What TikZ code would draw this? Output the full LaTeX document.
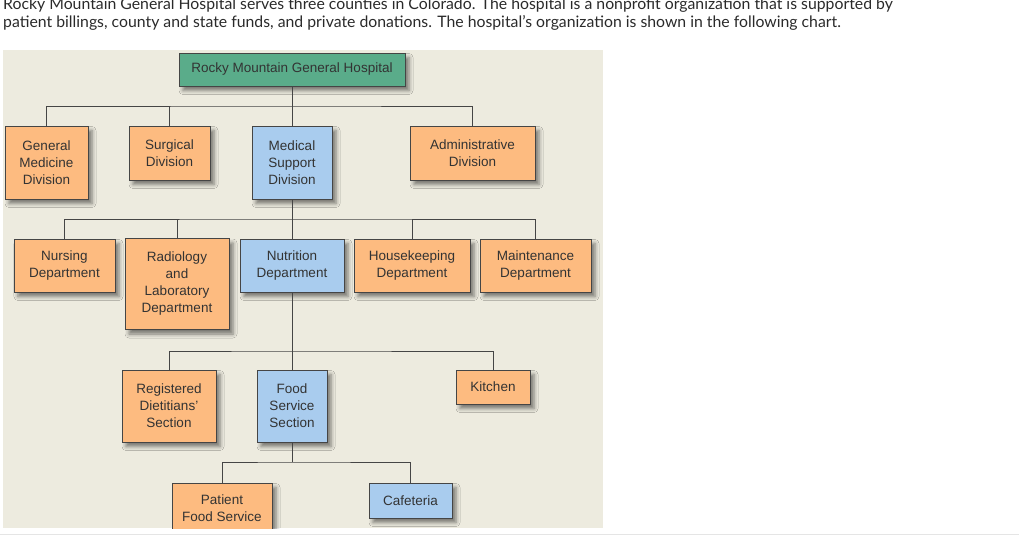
\documentclass[tikz,border=0pt]{standalone}
\usepackage{fontspec}
\setmainfont{Liberation Sans}
\newfontfamily\headfont{Lato}
\usetikzlibrary{shadows.blur}
\definecolor{panel}{HTML}{EDEBDF}
\definecolor{orangebox}{HTML}{FDBB80}
\definecolor{bluebox}{HTML}{A9CCEE}
\definecolor{greenbox}{HTML}{5AAC8A}
\definecolor{edge}{HTML}{454545}
\definecolor{ink}{HTML}{333333}
\definecolor{headink}{HTML}{2A2A2A}
\tikzset{
  unit/.style={draw=edge, line width=0.9pt, inner sep=0pt, align=center,
    text=ink, font=\fontsize{13.5}{17}\selectfont,
    blur shadow={shadow xshift=4pt, shadow yshift=-4.5pt, shadow blur radius=4pt, shadow opacity=50}},
  orange/.style={unit, fill=orangebox},
  blue/.style={unit, fill=bluebox},
  green/.style={unit, fill=greenbox},
  wire/.style={draw=edge, line width=0.9pt},
  headline/.style={anchor=base west, inner sep=0pt, text=headink, font=\headfont\fontsize{15.8}{19}\selectfont}
}
\begin{document}
\begin{tikzpicture}[x=1pt,y=-1pt]
\useasboundingbox (0,0) rectangle (1019,541);
\node[headline] (h1) at (3,9.5) {Rocky Mountain General Hospital serves three counties in Colorado. The hospital is a nonprofit organization that is supported by};
\node[headline] (h2) at (3,27.5) {patient billings, county and state funds, and private donations. The hospital’s organization is shown in the following chart.};
\draw[draw=black!10, line width=0.8pt] (0,534) -- (1019,534);
\begin{scope}
\clip (3,50) rectangle (603,528);
\fill[panel] (3,50) rectangle (603,528);
% level 0
\node[green, minimum width=226pt, minimum height=33pt] (top) at (292,69.5) {Rocky Mountain General Hospital};
% level 1
\node[orange, minimum width=83pt, minimum height=73pt] (gm) at (46.5,162.5) {General\\Medicine\\Division};
\node[orange, minimum width=81pt, minimum height=54pt] (surg) at (169.5,153) {Surgical\\Division};
\node[blue, minimum width=80pt, minimum height=73pt] (ms) at (292,162.5) {Medical\\Support\\Division};
\node[orange, minimum width=125pt, minimum height=54pt] (admin) at (472.5,153) {Administrative\\Division};
% level 2
\node[orange, minimum width=101pt, minimum height=53pt] (nurs) at (64.5,265.5) {Nursing\\Department};
\node[orange, minimum width=104pt, minimum height=91pt] (rad) at (177,284) {Radiology\\and\\Laboratory\\Department};
\node[blue, minimum width=104pt, minimum height=53pt] (nut) at (292,265.5) {Nutrition\\Department};
\node[orange, minimum width=116pt, minimum height=53pt] (house) at (412,265.5) {Housekeeping\\Department};
\node[orange, minimum width=111pt, minimum height=53pt] (maint) at (535.5,265.5) {Maintenance\\Department};
% level 3
\node[orange, minimum width=94pt, minimum height=72pt] (rd) at (169,406) {Registered\\Dietitians’\\Section};
\node[blue, minimum width=70pt, minimum height=72pt] (fs) at (292,406) {Food\\Service\\Section};
\node[orange, minimum width=74pt, minimum height=34pt] (kit) at (493,387) {Kitchen};
% level 4
\node[orange, minimum width=100pt, minimum height=51pt] (pfs) at (222,508.5) {Patient\\Food Service};
\node[blue, minimum width=83pt, minimum height=35pt] (caf) at (410.5,500.5) {Cafeteria};
% bars
\coordinate (b1) at (292,106);
\coordinate (b2) at (292,219);
\coordinate (b3) at (292,351);
\coordinate (b4) at (292,462);
\draw[wire] (top.south) -- (ms.north);
\draw[wire] (gm.north) |- (b1) -| (admin.north);
\draw[wire] (surg.north) -- (surg.north |- b1);
\draw[wire] (ms.south) -- (nut.north);
\draw[wire] (nurs.north) |- (b2) -| (maint.north);
\draw[wire] (rad.north) -- (rad.north |- b2);
\draw[wire] (house.north) -- (house.north |- b2);
\draw[wire] (nut.south) -- (fs.north);
\draw[wire] (rd.north) |- (b3) -| (kit.north);
\draw[wire] (fs.south) -- (b4);
\draw[wire] (pfs.north) |- (b4) -| (caf.north);
\end{scope}
\end{tikzpicture}
\end{document}
